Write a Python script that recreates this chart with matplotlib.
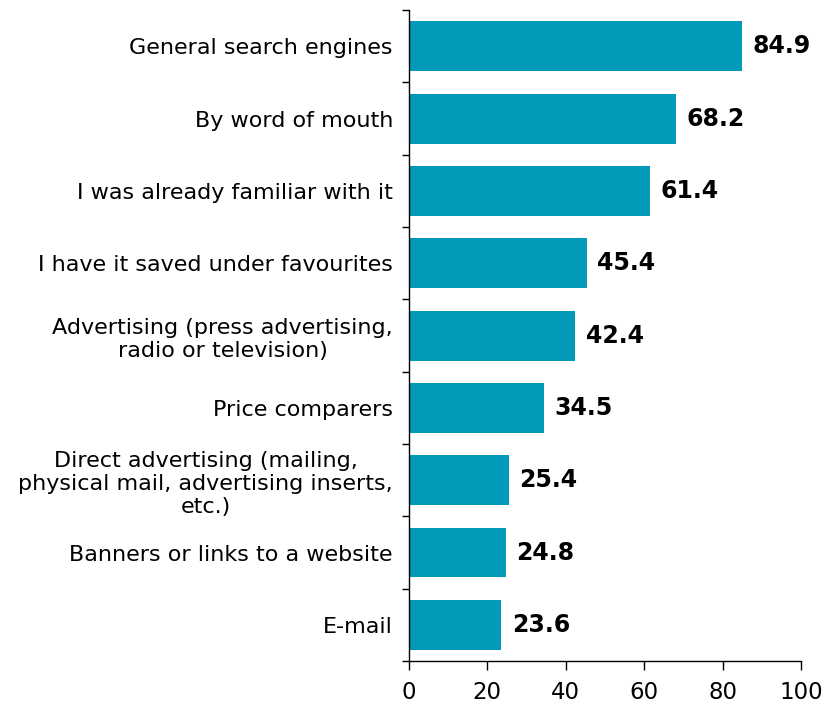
import matplotlib.pyplot as plt
import numpy as np

# Survey answers, top to bottom
categories = [
    "General search engines",
    "By word of mouth",
    "I was already familiar with it",
    "I have it saved under favourites",
    "Advertising (press advertising,\nradio or television)",
    "Price comparers",
    "Direct advertising (mailing,\nphysical mail, advertising inserts,\netc.)",
    "Banners or links to a website",
    "E-mail",
]
values = [84.9, 68.2, 61.4, 45.4, 42.4, 34.5, 25.4, 24.8, 23.6]
xticks = [0, 20, 40, 60, 80, 100]

bar_color = "#039aba"

fig = plt.figure(figsize=(8.26, 7.09), dpi=100)
ax = fig.add_axes([0.495, 0.0677, 0.475, 0.918])

y = np.arange(len(categories))
ax.barh(y, values, height=0.69, color=bar_color)

# Value labels just past the bar ends
for yi, v in zip(y, values):
    ax.annotate(f"{v:.1f}", xy=(v, yi), xytext=(7.5, 0), textcoords="offset points",
                ha="left", va="center", fontsize=17, fontweight="bold")

ax.set_ylim(len(categories) - 0.5, -0.5)
ax.set_xlim(0, 100)

ax.set_yticks(y)
ax.set_yticklabels(categories, fontsize=16)
for lbl in ax.get_yticklabels():
    lbl.set_multialignment("center")
ax.set_yticks(np.arange(-0.5, len(categories)), minor=True)
ax.tick_params(axis="y", which="major", length=0, pad=11.5)
ax.tick_params(axis="y", which="minor", length=5, width=1)

ax.set_xticks(xticks)
ax.set_xticklabels([str(t) for t in xticks], fontsize=16.5)
ax.tick_params(axis="x", length=6.5, width=1, pad=8)

for side in ["top", "right"]:
    ax.spines[side].set_visible(False)
for side in ["left", "bottom"]:
    ax.spines[side].set_linewidth(1)

plt.savefig("out.png", dpi=100)
